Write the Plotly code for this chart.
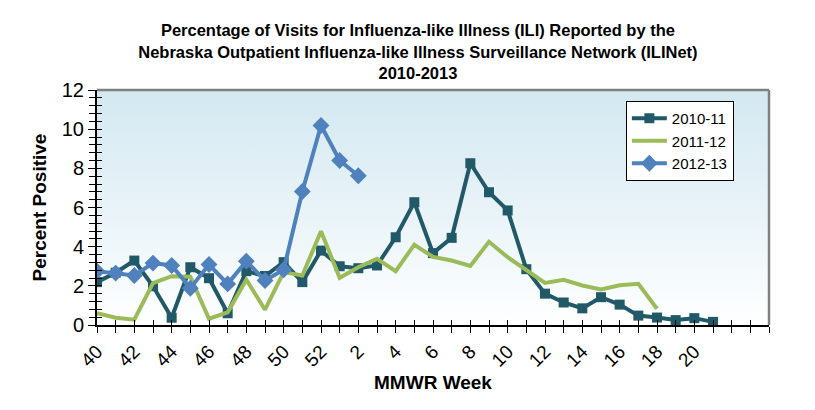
import base64
import plotly.graph_objects as go

# ---- data ----
weeks = list(range(40, 53)) + list(range(1, 25))          # MMWR week categories
label_weeks = [40, 42, 44, 46, 48, 50, 52, 2, 4, 6, 8, 10, 12, 14, 16, 18, 20]

s2010_11 = [2.19, 2.67, 3.29, 1.98, 0.37, 2.95, 2.39, 0.60, 2.75, 2.50, 3.21, 2.19,
            3.80, 3.00, 2.90, 3.04, 4.48, 6.27, 3.67, 4.45, 8.26, 6.78, 5.85, 2.85,
            1.60, 1.15, 0.85, 1.42, 1.04, 0.48, 0.38, 0.25, 0.35, 0.16]
s2011_12 = [0.60, 0.37, 0.27, 2.14, 2.49, 2.47, 0.32, 0.65, 2.31, 0.78, 2.70, 2.53,
            4.79, 2.41, 2.95, 3.38, 2.75, 4.10, 3.48, 3.29, 3.02, 4.25, 3.46, 2.78,
            2.15, 2.31, 2.02, 1.81, 2.03, 2.10, 0.83]
s2012_13 = [2.75, 2.65, 2.53, 3.16, 3.04, 1.88, 3.09, 2.10, 3.26, 2.27, 2.82, 6.82,
            10.19, 8.40, 7.62]

series_names = ["2010-11", "2011-12", "2012-13"]

idx = list(range(len(weeks)))
ticktext = [str(w) if (i % 2 == 0 and w in label_weeks) else "" for i, w in enumerate(weeks)]

FONT = "Liberation Sans, Arial, sans-serif"

fig = go.Figure()
fig.add_trace(go.Scatter(
    x=idx[:len(s2010_11)], y=s2010_11, name=series_names[0], mode="lines+markers",
    line=dict(color="#215968", width=4), marker=dict(symbol="square", size=10, color="#215968")))
fig.add_trace(go.Scatter(
    x=idx[:len(s2011_12)], y=s2011_12, name=series_names[1], mode="lines",
    line=dict(color="#9bbb59", width=4)))
fig.add_trace(go.Scatter(
    x=idx[:len(s2012_13)], y=s2012_13, name=series_names[2], mode="lines+markers",
    line=dict(color="#4f81bd", width=4), marker=dict(symbol="diamond", size=13, color="#4f81bd")))
# helper (empty) trace so the overlay axes used for crossing tick marks are drawn
fig.add_trace(go.Scatter(x=[], y=[], xaxis="x2", yaxis="y2", showlegend=False, hoverinfo="skip"))

svg = ('<svg xmlns="http://www.w3.org/2000/svg" width="100" height="100" preserveAspectRatio="none">'
       '<defs><linearGradient id="g" x1="0" y1="0" x2="0" y2="1">'
       '<stop offset="0" stop-color="#d3e8f1"/><stop offset="0.55" stop-color="#eaf4f8"/>'
       '<stop offset="1" stop-color="#ffffff"/></linearGradient></defs>'
       '<rect width="100" height="100" fill="url(#g)"/></svg>')
src = "data:image/svg+xml;base64," + base64.b64encode(svg.encode()).decode()

common_x = dict(range=[0, len(weeks) - 1], showgrid=False, zeroline=False, fixedrange=True)
common_y = dict(range=[0, 12], showgrid=False, zeroline=False, fixedrange=True)

fig.update_layout(
    width=815, height=410,
    margin=dict(l=89, r=54, t=82, b=93),
    paper_bgcolor="white", plot_bgcolor="rgba(0,0,0,0)",
    font=dict(family=FONT, color="black"),
    title=dict(
        text="<b>Percentage of Visits for Influenza-like Illness (ILI) Reported by the<br>"
             "Nebraska Outpatient Influenza-like Illness Surveillance Network (ILINet)<br>"
             "2010-2013</b>",
        x=0.503, xanchor="center", xref="container", y=0.931, yanchor="top",
        yref="container",
        font=dict(size=16.5, family=FONT, color="black")),
    xaxis=dict(**common_x, tickmode="array", tickvals=idx, ticktext=ticktext, tickangle=-45,
               ticks="outside", ticklen=6, tickwidth=1, tickcolor="black",
               showline=True, linecolor="black", linewidth=2,
               tickfont=dict(size=19, family=FONT),
               title=dict(text="<b>MMWR Week</b>", font=dict(size=19, family=FONT), standoff=6)),
    xaxis2=dict(**common_x, overlaying="x", anchor="y", side="bottom", tickmode="array",
                tickvals=idx, ticks="inside", ticklen=5, tickwidth=1, tickcolor="black",
                showticklabels=False, showline=False),
    yaxis=dict(**common_y, dtick=2, ticks="outside", ticklen=7, tickwidth=1, tickcolor="black",
               minor=dict(dtick=0.4, ticks="outside", ticklen=6, tickcolor="black", tickwidth=1),
               showline=True, linecolor="black", linewidth=2,
               tickfont=dict(size=20, family=FONT),
               title=dict(text="<b>Percent Positive</b>", font=dict(size=19, family=FONT), standoff=10)),
    yaxis2=dict(**common_y, overlaying="y", anchor="x", side="left", dtick=2,
                ticks="inside", ticklen=5, tickwidth=1, tickcolor="black",
                minor=dict(dtick=0.4, ticks="inside", ticklen=5, tickcolor="black", tickwidth=1),
                showticklabels=False, showline=False),
    legend=dict(x=0.787, y=0.953, xanchor="left", yanchor="top", bgcolor="white",
                bordercolor="black", borderwidth=1, font=dict(size=15, family=FONT),
                tracegroupgap=0, itemwidth=35),
    images=[dict(source=src, xref="paper", yref="paper", x=0, y=1, sizex=1, sizey=1,
                 sizing="stretch", layer="below", xanchor="left", yanchor="top")],
    shapes=[dict(type="line", xref="paper", yref="paper", x0=0, x1=1, y0=1, y1=1,
                 line=dict(color="#808080", width=2.5)),
            dict(type="line", xref="paper", yref="paper", x0=1, x1=1, y0=0, y1=1,
                 line=dict(color="#808080", width=2.5))],
    showlegend=True,
)

fig.write_html("out.html")
